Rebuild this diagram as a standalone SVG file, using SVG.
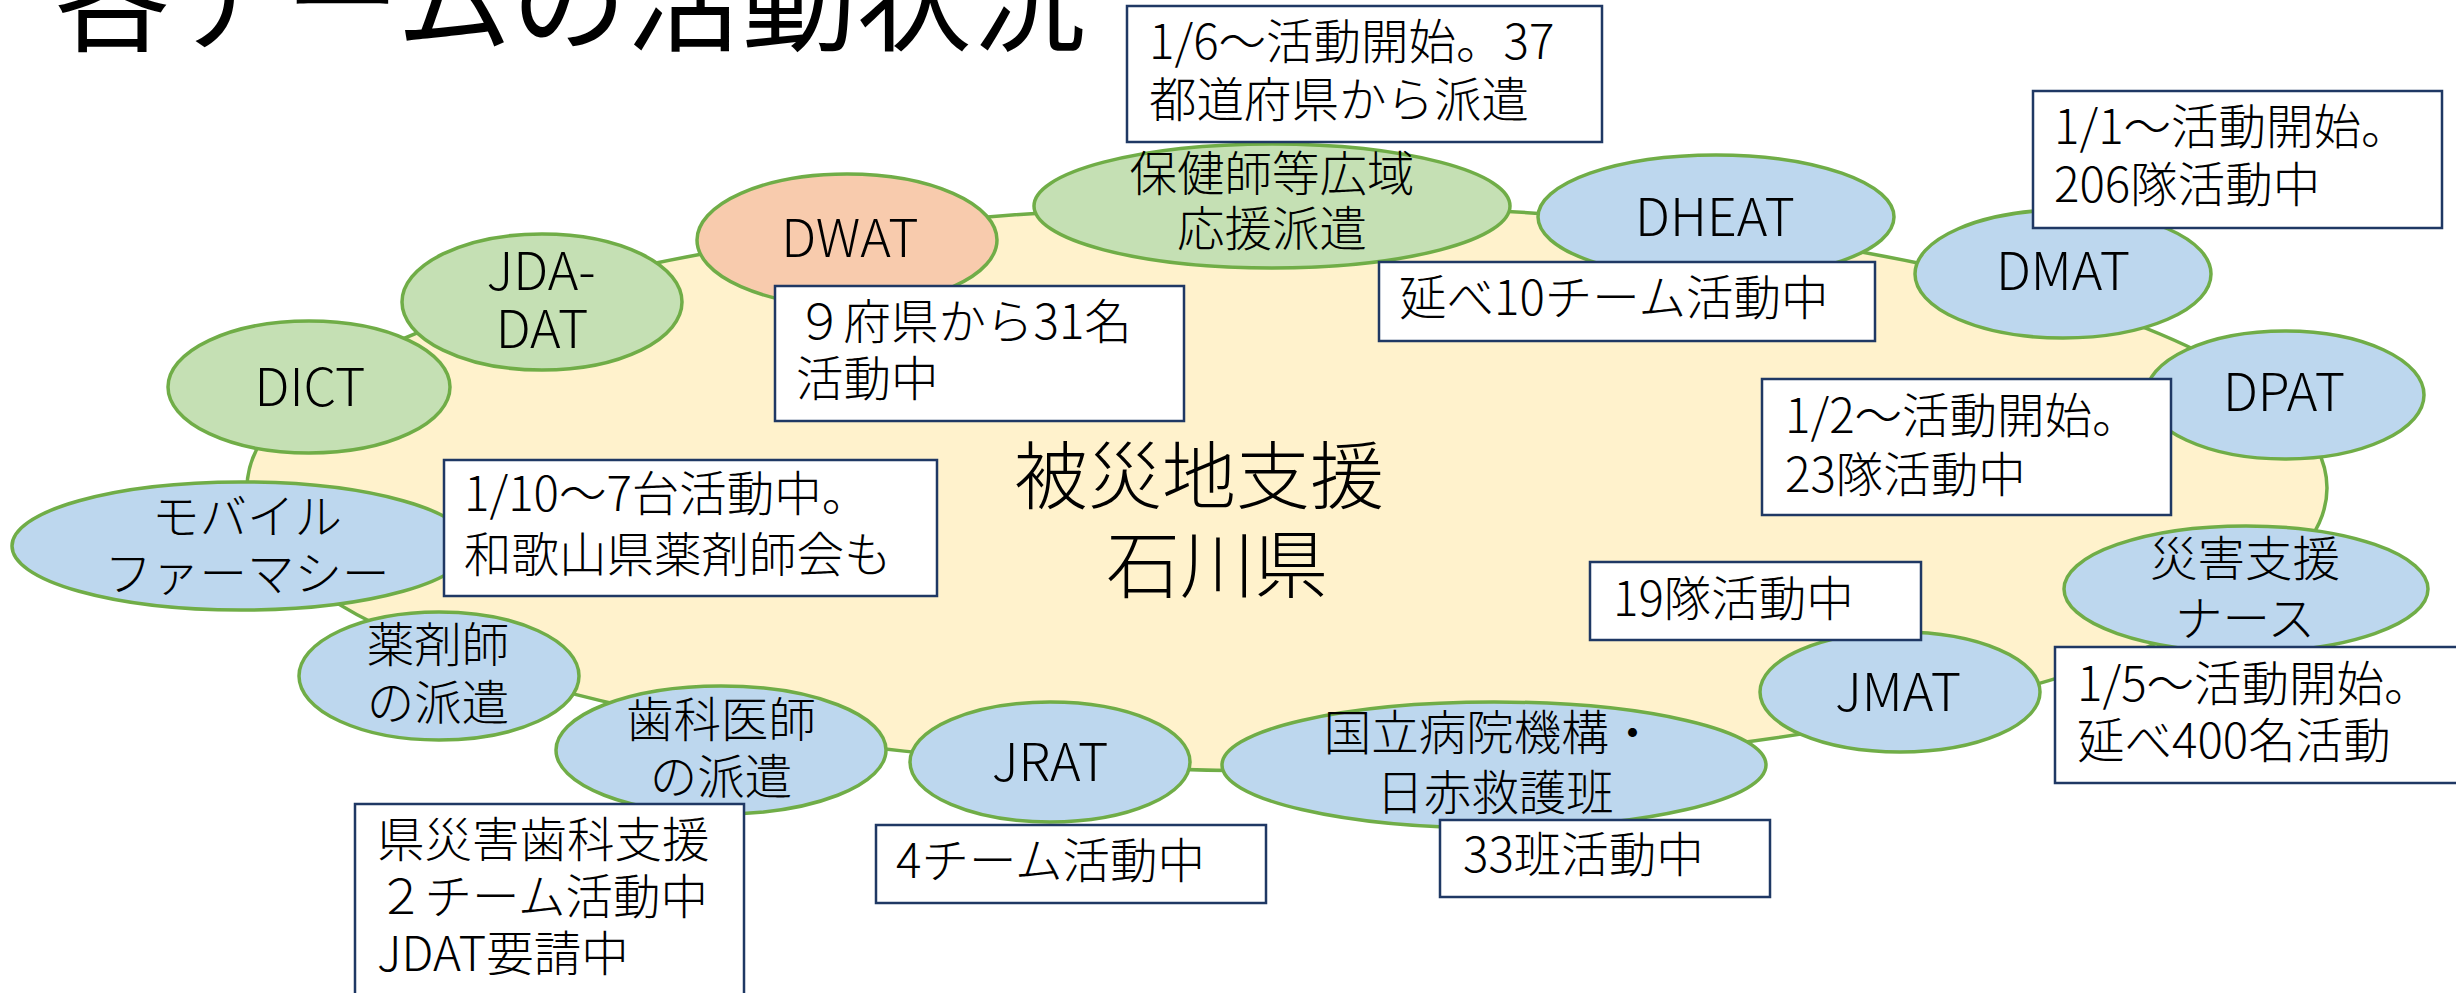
<svg xmlns="http://www.w3.org/2000/svg" width="2456" height="993" viewBox="0 0 2456 993">
<style>
text { font-family: "Noto Sans CJK JP", "Noto Sans CJK SC", sans-serif; fill: #000; font-weight: 300; }
.n { stroke: #70AD47; stroke-width: 3.5; }
.blue { fill: #BDD7EE; }
.green { fill: #C5E0B4; }
.peach { fill: #F8CBAD; }
.hub { fill: #FFF2CC; stroke: #70AD47; stroke-width: 3.5; }
.box { fill: #FFFFFF; stroke: #1F3864; stroke-width: 2.5; }
.t { font-size: 47.5px; }
.l { font-size: 52px; }
.c { text-anchor: middle; }
.title { font-size: 115px; font-weight: 400; }
.big { font-size: 74px; text-anchor: middle; }
</style>
<rect width="2456" height="993" fill="#FFFFFF"/>
<text class="title" x="55" y="42">各チームの活動状況</text>

<g id="hub">
  <ellipse class="hub" cx="1287" cy="488" rx="1040" ry="283"/>
  <text class="big" x="1199" y="503">被災地支援</text>
  <text class="big" x="1217" y="592">石川県</text>
</g>

<g id="connectors"></g>

<g id="node-dict">
  <ellipse class="n green" cx="309" cy="387" rx="141" ry="66"/>
  <text class="l c" x="310" y="406">DICT</text>
</g>
<g id="node-jdadat">
  <ellipse class="n green" cx="542" cy="302" rx="140" ry="68"/>
  <text class="l c" x="541" y="290">JDA-</text>
  <text class="l c" x="542" y="348">DAT</text>
</g>
<g id="node-dwat">
  <ellipse class="n peach" cx="847" cy="240" rx="150" ry="66"/>
  <text class="l c" x="850" y="257">DWAT</text>
</g>
<g id="node-hokenshi">
  <ellipse class="n green" cx="1272" cy="206" rx="238" ry="62"/>
  <text class="t c" x="1272" y="191">保健師等広域</text>
  <text class="t c" x="1272" y="246">応援派遣</text>
</g>
<g id="node-dheat">
  <ellipse class="n blue" cx="1716" cy="217" rx="178" ry="62"/>
  <text class="l c" x="1715" y="236">DHEAT</text>
</g>
<g id="node-dmat">
  <ellipse class="n blue" cx="2063" cy="274" rx="148" ry="64"/>
  <text class="l c" x="2063" y="290">DMAT</text>
</g>
<g id="node-dpat">
  <ellipse class="n blue" cx="2285" cy="395" rx="139" ry="64"/>
  <text class="l c" x="2284" y="411">DPAT</text>
</g>
<g id="node-nurse">
  <ellipse class="n blue" cx="2246" cy="589" rx="182" ry="63"/>
  <text class="t c" x="2245" y="576">災害支援</text>
  <text class="t c" x="2245" y="636">ナース</text>
</g>
<g id="node-jmat">
  <ellipse class="n blue" cx="1900" cy="692" rx="140" ry="60"/>
  <text class="l c" x="1898" y="711">JMAT</text>
</g>
<g id="node-kokuritsu">
  <ellipse class="n blue" cx="1494" cy="765" rx="272" ry="63"/>
  <text class="t c" x="1490" y="750">国立病院機構・</text>
  <text class="t c" x="1495" y="810">日赤救護班</text>
</g>
<g id="node-jrat">
  <ellipse class="n blue" cx="1050" cy="762" rx="140" ry="60"/>
  <text class="l c" x="1050" y="781">JRAT</text>
</g>
<g id="node-shika">
  <ellipse class="n blue" cx="721" cy="750" rx="165" ry="64"/>
  <text class="t c" x="721" y="737">歯科医師</text>
  <text class="t c" x="721" y="794">の派遣</text>
</g>
<g id="node-yakuzaishi">
  <ellipse class="n blue" cx="439" cy="676" rx="140" ry="64"/>
  <text class="t c" x="438" y="662">薬剤師</text>
  <text class="t c" x="438" y="720">の派遣</text>
</g>
<g id="node-mobile">
  <ellipse class="n blue" cx="241" cy="546" rx="229" ry="64"/>
  <text class="t c" x="247" y="534">モバイル</text>
  <text class="t c" x="247" y="591">ファーマシー</text>
</g>

<g id="note-hokenshi">
  <rect class="box" x="1127" y="6" width="475" height="136"/>
  <text class="t" x="1149" y="59">1/6～活動開始。37</text>
  <text class="t" x="1149" y="117">都道府県から派遣</text>
</g>
<g id="note-dmat">
  <rect class="box" x="2033" y="91" width="409" height="137"/>
  <text class="t" x="2054" y="144">1/1～活動開始。</text>
  <text class="t" x="2054" y="202">206隊活動中</text>
</g>
<g id="note-dheat">
  <rect class="box" x="1379" y="262" width="496" height="79"/>
  <text class="t" x="1399" y="315">延べ10チーム活動中</text>
</g>
<g id="note-dwat">
  <rect class="box" x="775" y="286" width="409" height="135"/>
  <text class="t" x="796" y="339">９府県から31名</text>
  <text class="t" x="796" y="396">活動中</text>
</g>
<g id="note-mobile">
  <rect class="box" x="444" y="460" width="493" height="136"/>
  <text class="t" x="464" y="511">1/10～7台活動中。</text>
  <text class="t" x="464" y="572">和歌山県薬剤師会も</text>
</g>
<g id="note-dpat">
  <rect class="box" x="1762" y="379" width="409" height="136"/>
  <text class="t" x="1785" y="433">1/2～活動開始。</text>
  <text class="t" x="1785" y="492">23隊活動中</text>
</g>
<g id="note-jmat">
  <rect class="box" x="1590" y="562" width="331" height="78"/>
  <text class="t" x="1613" y="616">19隊活動中</text>
</g>
<g id="note-nurse">
  <rect class="box" x="2055" y="647" width="410" height="136"/>
  <text class="t" x="2077" y="701">1/5～活動開始。</text>
  <text class="t" x="2077" y="758">延べ400名活動</text>
</g>
<g id="note-kokuritsu">
  <rect class="box" x="1440" y="820" width="330" height="77"/>
  <text class="t" x="1463" y="872">33班活動中</text>
</g>
<g id="note-jrat">
  <rect class="box" x="876" y="825" width="390" height="78"/>
  <text class="t" x="896" y="878">4チーム活動中</text>
</g>
<g id="note-shika">
  <rect class="box" x="355" y="804" width="389" height="200"/>
  <text class="t" x="377" y="857">県災害歯科支援</text>
  <text class="t" x="377" y="914">２チーム活動中</text>
  <text class="t" x="377" y="971">JDAT要請中</text>
</g>
</svg>
